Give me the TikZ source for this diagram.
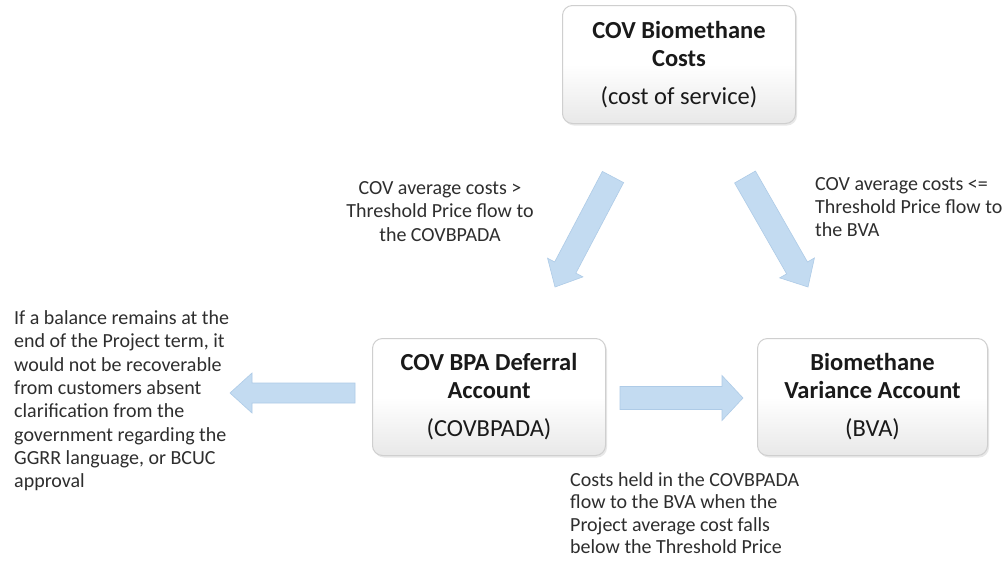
\documentclass[tikz,border=0pt]{standalone}
\usepackage{fontspec}
\setmainfont{Carlito}
\usetikzlibrary{calc,shadows}
\definecolor{arrfill}{HTML}{C3DBF1}
\definecolor{arrline}{HTML}{AECBE7}
\definecolor{boxline}{HTML}{CFCFCF}
\definecolor{txt}{HTML}{2E2E2E}
\definecolor{ttl}{HTML}{1A1A1A}
\tikzset{
  acctbox/.style={draw=boxline, line width=1pt, rounded corners=10pt,
    top color=white, bottom color=black!9, middle color=white,
    drop shadow={shadow xshift=1.5pt, shadow yshift=-2pt, opacity=0.18},
    anchor=north west, inner sep=0pt, align=center, text=ttl,
    font=\fontsize{24.5}{28}\selectfont\bfseries},
  note/.style={inner sep=0pt, text=txt, font=\fontsize{20}{23.3}\selectfont},
  barrow/.style={fill=arrfill, draw=arrline, line width=0.6pt, line join=miter}
}
\newcommand\blockarr[5]{%
  \coordinate (hb) at ($(#2)!#5!(#1)$);
  \draw[barrow] ($(#1)!#3!90:(#2)$) -- ($(hb)!#3!90:(#2)$) -- ($(hb)!#4!90:(#2)$)
    -- (#2) -- ($(hb)!#4!-90:(#2)$) -- ($(hb)!#3!-90:(#2)$) -- ($(#1)!#3!-90:(#2)$) -- cycle;}
\begin{document}
\begin{tikzpicture}[x=1pt,y=-1pt]
\useasboundingbox[fill=white] (0,0) rectangle (1007,566);
% boxes
\node[acctbox, minimum width=233pt, minimum height=118pt] (top) at (562,5)
  {COV Biomethane\\Costs\\[10pt]{\mdseries (cost of service)}};
\node[acctbox, minimum width=233pt, minimum height=117pt] (left) at (372,338)
  {COV BPA Deferral\\Account\\[10pt]{\mdseries (COVBPADA)}};
\node[acctbox, minimum width=230pt, minimum height=117pt] (right) at (757,338)
  {Biomethane\\Variance Account\\[10pt]{\mdseries (BVA)}};
% arrow end points
\coordinate (a1s) at (613,177);
\coordinate (a1e) at (555,287);
\coordinate (a2s) at (745,177);
\coordinate (a2e) at (808,287);
\coordinate (a3s) at (355,393);
\coordinate (a3e) at (230,393);
\coordinate (a4s) at (620,398);
\coordinate (a4e) at (743,398);
\blockarr{a1s}{a1e}{12pt}{20pt}{22pt}
\blockarr{a2s}{a2e}{12pt}{20pt}{22pt}
\blockarr{a3s}{a3e}{10pt}{20pt}{22pt}
\blockarr{a4s}{a4e}{11.5pt}{22.5pt}{21pt}
% notes
\node[note, align=left, anchor=north west] (n1) at (14,310.5)
  {If a balance remains at the\\end of the Project term, it\\would not be recoverable\\from customers absent\\clarification from the\\government regarding the\\GGRR language, or BCUC\\approval};
\node[note, align=center, anchor=north] (n2) at (440,181.5)
  {COV average costs >\\Threshold Price flow to\\the COVBPADA};
\node[note, align=left, anchor=north west, font=\fontsize{20}{23}\selectfont] (n3) at (815,177.5)
  {COV average costs <=\\Threshold Price flow to\\the BVA};
\node[note, align=left, anchor=north west, font=\fontsize{20}{22.4}\selectfont] (n4) at (570,472.5)
  {Costs held in the COVBPADA\\flow to the BVA when the\\Project average cost falls\\below the Threshold Price};
\end{tikzpicture}
\end{document}
